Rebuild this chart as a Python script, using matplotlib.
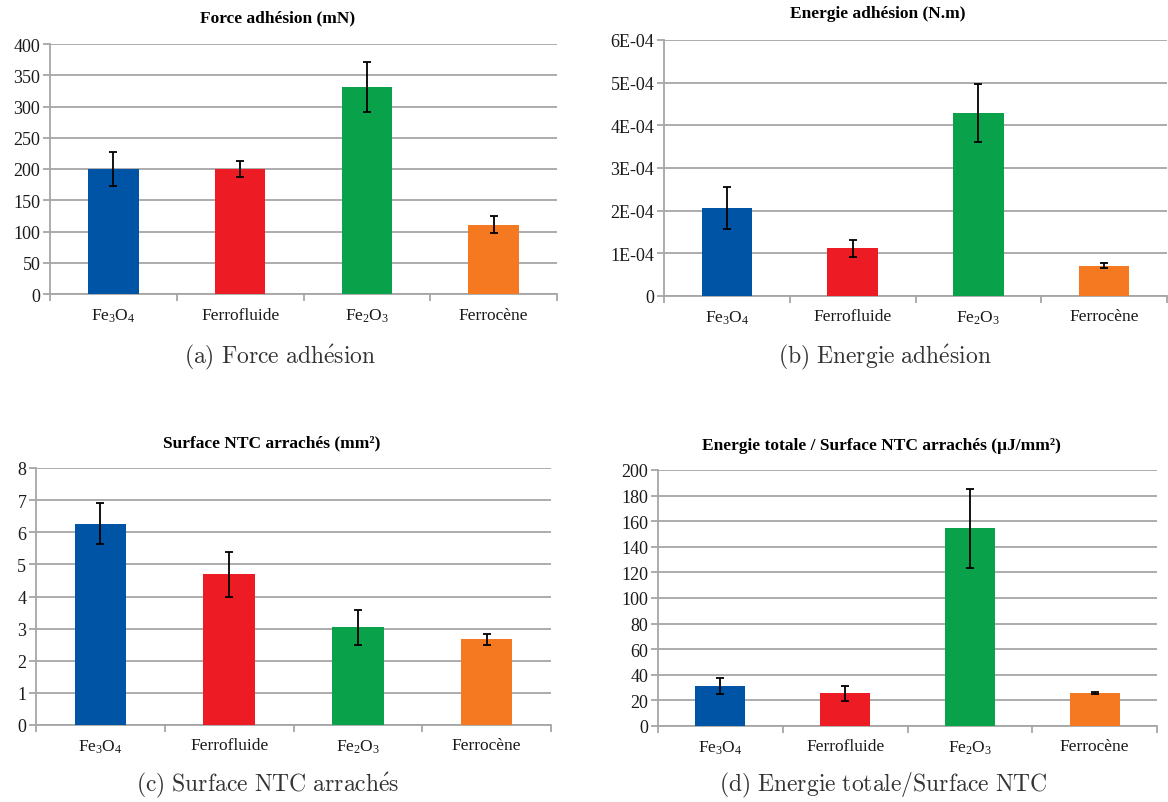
import numpy as np
import matplotlib
matplotlib.use("Agg")
import matplotlib.pyplot as plt
from matplotlib.ticker import FixedLocator, FuncFormatter, NullFormatter

plt.rcParams['font.family'] = ['Liberation Serif', 'DejaVu Serif']
plt.rcParams['mathtext.fontset'] = 'custom'
plt.rcParams['mathtext.rm'] = 'Liberation Serif'
plt.rcParams['mathtext.it'] = 'Liberation Serif:italic'

# DATA
categories = ['Fe$_3$O$_4$', 'Ferrofluide', 'Fe$_2$O$_3$', 'Ferrocène']
colors = ['#0054A6', '#ED1C24', '#0AA14B', '#F47920']

force = [200, 200, 331, 111]
force_err = [27, 12.5, 40, 13.5]

energie = [2.06e-4, 1.12e-4, 4.29e-4, 0.71e-4]
energie_err = [0.49e-4, 0.20e-4, 0.69e-4, 0.06e-4]

surface = [6.27, 4.69, 3.04, 2.67]
surface_err = [0.63, 0.69, 0.55, 0.17]

ratio = [31.2, 25.7, 154.5, 25.7]
ratio_err = [6.4, 5.8, 31, 1]

W, H = 1168, 803
fig = plt.figure(figsize=(W / 100, H / 100), dpi=100)
grid_col = '#A6A6A6'


def px_axes(left, right, top, bottom):
    return fig.add_axes([left / W, 1 - bottom / H, (right - left) / W, (bottom - top) / H])


def panel(ax, vals, errs, ymax, step, title, title_xy, caption, cap_xy, fmt=None):
    x = np.arange(len(vals))
    ax.bar(x, vals, width=0.4, color=colors, zorder=3)
    ax.errorbar(x, vals, yerr=errs, fmt='none', ecolor='black', elinewidth=1.3,
                capsize=3, capthick=1.3, zorder=4)
    ax.set_xlim(-0.5, len(vals) - 0.5)
    ax.set_ylim(0, ymax)
    ax.yaxis.set_major_locator(FixedLocator(np.arange(0, ymax + step / 2, step)))
    if fmt is not None:
        ax.yaxis.set_major_formatter(FuncFormatter(fmt))
    ax.grid(axis='y', color=grid_col, linewidth=1.3, zorder=0)
    for s in ['top', 'right']:
        ax.spines[s].set_visible(False)
    for s in ['left', 'bottom']:
        ax.spines[s].set_color(grid_col)
        ax.spines[s].set_linewidth(1.3)
    ax.set_xticks(x)
    ax.set_xticklabels(categories)
    ax.set_xticks(np.arange(-0.5, len(vals), 1.0), minor=True)
    ax.xaxis.set_minor_formatter(NullFormatter())
    ax.tick_params(axis='x', which='major', length=0, pad=9, labelsize=12.5, labelcolor='#1a1a1a')
    ax.tick_params(axis='x', which='minor', length=5, color=grid_col, width=1.3)
    ax.tick_params(axis='y', length=5, color=grid_col, width=1.3, labelsize=13, pad=2,
                   labelcolor='#1a1a1a')
    fig.text(title_xy[0] / W, 1 - title_xy[1] / H, title, ha='center', va='center',
             fontsize=12.5, fontweight='bold')
    fig.text(cap_xy[0] / W, 1 - cap_xy[1] / H, caption, ha='center', va='center',
             fontsize=17, math_fontfamily='cm', color='#333333')


def sci(v, pos):
    return '0' if v == 0 else '%.0E' % v


ax_a = px_axes(50, 557, 45, 295)
panel(ax_a, force, force_err, 400, 50, 'Force adhésion (mN)', (278, 18),
      r'$\mathrm{(a)\ Force\ adh\acute{e}sion}$', (280, 357))

ax_b = px_axes(664, 1167, 41, 297)
panel(ax_b, energie, energie_err, 6e-4, 1e-4, 'Energie adhésion (N.m)', (878, 14),
      r'$\mathrm{(b)\ Energie\ adh\acute{e}sion}$', (885, 357), sci)

ax_c = px_axes(36, 551, 469, 726)
panel(ax_c, surface, surface_err, 8, 1, 'Surface NTC arrachés (mm²)', (272, 443),
      r'$\mathrm{(c)\ Surface\ NTC\ arrach\acute{e}s}$', (268, 785))

ax_d = px_axes(658, 1157, 471, 727)
panel(ax_d, ratio, ratio_err, 200, 20, 'Energie totale / Surface NTC arrachés (µJ/mm²)', (881, 446),
      r'$\mathrm{(d)\ Energie\ totale/Surface\ NTC}$', (883, 785))

fig.savefig('out.png', dpi=100)
